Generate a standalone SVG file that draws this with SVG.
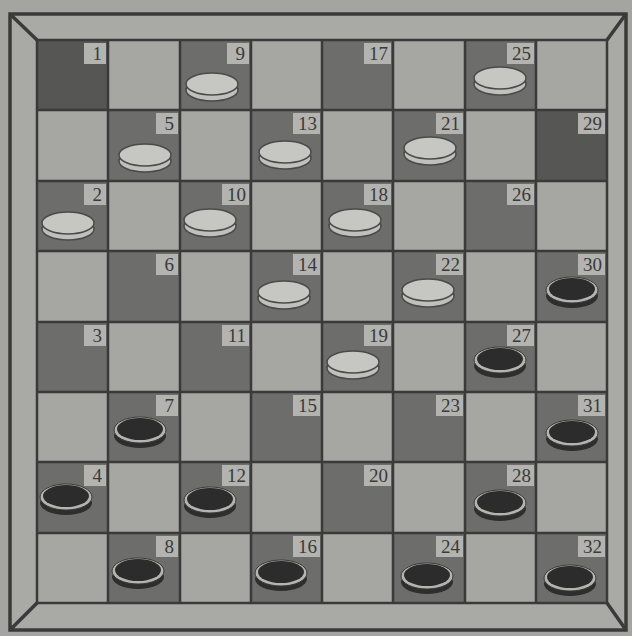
<svg xmlns="http://www.w3.org/2000/svg" width="632" height="636" viewBox="0 0 632 636">
<defs>
<style>
.dk{fill:#6d6d6b}
.dd{fill:#565655}
.ln{stroke:#3a3a3a;stroke-width:2.5;fill:none}
.lb{fill:#b3b3b0}
.nt{font-family:"Liberation Serif",serif;font-size:19px;fill:#3a3a3a;text-anchor:end}
.wb{fill:#c0c0bc;stroke:#4a4a4a;stroke-width:1.5}
.wt{fill:#c6c6c2;stroke:#4a4a4a;stroke-width:1.5}
.bs{fill:#2e2e2e}
.br{fill:#b4b4b0;stroke:#3a3a3a;stroke-width:1}
.bi{fill:#2c2c2c}
</style>
<g id="wp"><ellipse class="wb" cx="0" cy="6" rx="26" ry="11"/><ellipse class="wt" cx="0" cy="0" rx="26" ry="11"/></g>
<g id="bp"><ellipse class="bs" cx="0" cy="6" rx="26" ry="12"/><ellipse class="br" cx="0" cy="0" rx="26" ry="13"/><ellipse class="bi" cx="0" cy="-1" rx="23" ry="11"/></g>
</defs>
<rect x="0" y="0" width="632" height="636" fill="#a4a4a1"/>
<g id="frame">
<rect x="10" y="14" width="616" height="616" fill="#a9a9a6" stroke="#3a3a3a" stroke-width="3.5"/>
<rect x="37" y="40" width="570" height="563" fill="#a6a6a3"/>
<line class="ln" x1="10" y1="14" x2="37" y2="40" style="stroke-width:3.5"/>
<line class="ln" x1="626" y1="14" x2="607" y2="40" style="stroke-width:3.5"/>
<line class="ln" x1="10" y1="630" x2="37" y2="603" style="stroke-width:3.5"/>
<line class="ln" x1="626" y1="630" x2="607" y2="603" style="stroke-width:3.5"/>
</g>
<g id="darks">
<rect class="dd" x="37" y="40" width="71" height="70"/>
<rect class="dk" x="180" y="40" width="71" height="70"/>
<rect class="dk" x="322" y="40" width="71" height="70"/>
<rect class="dk" x="465" y="40" width="71" height="70"/>
<rect class="dk" x="108" y="110" width="72" height="71"/>
<rect class="dk" x="251" y="110" width="71" height="71"/>
<rect class="dk" x="393" y="110" width="72" height="71"/>
<rect class="dd" x="536" y="110" width="71" height="71"/>
<rect class="dk" x="37" y="181" width="71" height="70"/>
<rect class="dk" x="180" y="181" width="71" height="70"/>
<rect class="dk" x="322" y="181" width="71" height="70"/>
<rect class="dk" x="465" y="181" width="71" height="70"/>
<rect class="dk" x="108" y="251" width="72" height="71"/>
<rect class="dk" x="251" y="251" width="71" height="71"/>
<rect class="dk" x="393" y="251" width="72" height="71"/>
<rect class="dk" x="536" y="251" width="71" height="71"/>
<rect class="dk" x="37" y="322" width="71" height="70"/>
<rect class="dk" x="180" y="322" width="71" height="70"/>
<rect class="dk" x="322" y="322" width="71" height="70"/>
<rect class="dk" x="465" y="322" width="71" height="70"/>
<rect class="dk" x="108" y="392" width="72" height="70"/>
<rect class="dk" x="251" y="392" width="71" height="70"/>
<rect class="dk" x="393" y="392" width="72" height="70"/>
<rect class="dk" x="536" y="392" width="71" height="70"/>
<rect class="dk" x="37" y="462" width="71" height="71"/>
<rect class="dk" x="180" y="462" width="71" height="71"/>
<rect class="dk" x="322" y="462" width="71" height="71"/>
<rect class="dk" x="465" y="462" width="71" height="71"/>
<rect class="dk" x="108" y="533" width="72" height="70"/>
<rect class="dk" x="251" y="533" width="71" height="70"/>
<rect class="dk" x="393" y="533" width="72" height="70"/>
<rect class="dk" x="536" y="533" width="71" height="70"/>
</g>
<g id="grid" class="ln">
<rect x="37" y="40" width="570" height="563"/>
<path d="M108 40V603M180 40V603M251 40V603M322 40V603M393 40V603M465 40V603M536 40V603M37 110H607M37 181H607M37 251H607M37 322H607M37 392H607M37 462H607M37 533H607"/>
</g>
<g id="labels">
<rect class="lb" x="84" y="43" width="22" height="21"/><text class="nt" x="102" y="60">1</text>
<rect class="lb" x="227" y="43" width="22" height="21"/><text class="nt" x="245" y="60">9</text>
<rect class="lb" x="364" y="43" width="27" height="21"/><text class="nt" x="388" y="60">17</text>
<rect class="lb" x="507" y="43" width="27" height="21"/><text class="nt" x="531" y="60">25</text>
<rect class="lb" x="156" y="113" width="22" height="21"/><text class="nt" x="174" y="130">5</text>
<rect class="lb" x="293" y="113" width="27" height="21"/><text class="nt" x="317" y="130">13</text>
<rect class="lb" x="436" y="113" width="27" height="21"/><text class="nt" x="460" y="130">21</text>
<rect class="lb" x="578" y="113" width="27" height="21"/><text class="nt" x="602" y="130">29</text>
<rect class="lb" x="84" y="184" width="22" height="21"/><text class="nt" x="102" y="201">2</text>
<rect class="lb" x="222" y="184" width="27" height="21"/><text class="nt" x="246" y="201">10</text>
<rect class="lb" x="364" y="184" width="27" height="21"/><text class="nt" x="388" y="201">18</text>
<rect class="lb" x="507" y="184" width="27" height="21"/><text class="nt" x="531" y="201">26</text>
<rect class="lb" x="156" y="254" width="22" height="21"/><text class="nt" x="174" y="271">6</text>
<rect class="lb" x="293" y="254" width="27" height="21"/><text class="nt" x="317" y="271">14</text>
<rect class="lb" x="436" y="254" width="27" height="21"/><text class="nt" x="460" y="271">22</text>
<rect class="lb" x="578" y="254" width="27" height="21"/><text class="nt" x="602" y="271">30</text>
<rect class="lb" x="84" y="325" width="22" height="21"/><text class="nt" x="102" y="342">3</text>
<rect class="lb" x="222" y="325" width="27" height="21"/><text class="nt" x="246" y="342">11</text>
<rect class="lb" x="364" y="325" width="27" height="21"/><text class="nt" x="388" y="342">19</text>
<rect class="lb" x="507" y="325" width="27" height="21"/><text class="nt" x="531" y="342">27</text>
<rect class="lb" x="156" y="395" width="22" height="21"/><text class="nt" x="174" y="412">7</text>
<rect class="lb" x="293" y="395" width="27" height="21"/><text class="nt" x="317" y="412">15</text>
<rect class="lb" x="436" y="395" width="27" height="21"/><text class="nt" x="460" y="412">23</text>
<rect class="lb" x="578" y="395" width="27" height="21"/><text class="nt" x="602" y="412">31</text>
<rect class="lb" x="84" y="465" width="22" height="21"/><text class="nt" x="102" y="482">4</text>
<rect class="lb" x="222" y="465" width="27" height="21"/><text class="nt" x="246" y="482">12</text>
<rect class="lb" x="364" y="465" width="27" height="21"/><text class="nt" x="388" y="482">20</text>
<rect class="lb" x="507" y="465" width="27" height="21"/><text class="nt" x="531" y="482">28</text>
<rect class="lb" x="156" y="536" width="22" height="21"/><text class="nt" x="174" y="553">8</text>
<rect class="lb" x="293" y="536" width="27" height="21"/><text class="nt" x="317" y="553">16</text>
<rect class="lb" x="436" y="536" width="27" height="21"/><text class="nt" x="460" y="553">24</text>
<rect class="lb" x="578" y="536" width="27" height="21"/><text class="nt" x="602" y="553">32</text>
</g>
<g id="white-pieces">
<use href="#wp" x="212" y="84"/>
<use href="#wp" x="500" y="78"/>
<use href="#wp" x="145" y="155"/>
<use href="#wp" x="285" y="152"/>
<use href="#wp" x="430" y="148"/>
<use href="#wp" x="68" y="223"/>
<use href="#wp" x="210" y="220"/>
<use href="#wp" x="355" y="220"/>
<use href="#wp" x="284" y="292"/>
<use href="#wp" x="428" y="290"/>
<use href="#wp" x="353" y="362"/>
</g>
<g id="black-pieces">
<use href="#bp" x="572" y="290"/>
<use href="#bp" x="500" y="360"/>
<use href="#bp" x="140" y="430"/>
<use href="#bp" x="572" y="433"/>
<use href="#bp" x="66" y="497"/>
<use href="#bp" x="210" y="500"/>
<use href="#bp" x="500" y="503"/>
<use href="#bp" x="138" y="571"/>
<use href="#bp" x="281" y="573"/>
<use href="#bp" x="427" y="576"/>
<use href="#bp" x="570" y="578"/>
</g>
</svg>
